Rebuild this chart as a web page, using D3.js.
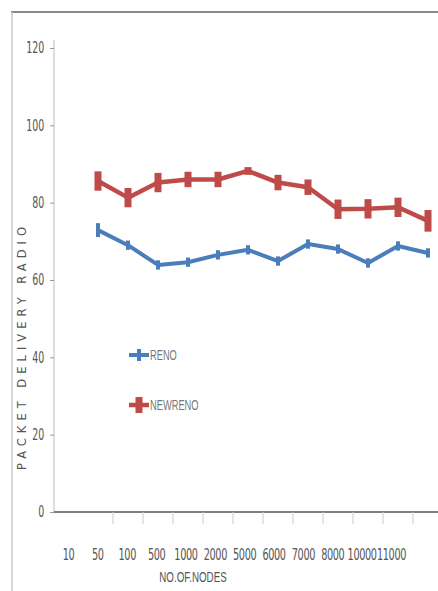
<!DOCTYPE html>
<html>
<head>
<meta charset="utf-8">
<script src="https://cdn.jsdelivr.net/npm/d3@7"></script>
<style>
  body { margin: 0; background: #fff; }
  .tick text { font-family: "Liberation Sans Narrow", "DejaVu Sans Condensed", sans-serif; fill: #555; }
</style>
</head>
<body>
<div id="chart"></div>
<script>
// Data
const nodeLabels = ["10", "50", "100", "500", "1000", "2000", "5000", "6000", "7000", "8000", "10000", "11000"];
const yTicks = [0, 20, 40, 60, 80, 100, 120];
const renoValues = [72.9, 69.0, 63.9, 64.6, 66.5, 67.8, 64.9, 69.3, 68.0, 64.4, 68.8, 67.0];
const newrenoValues = [85.6, 81.3, 85.2, 86.0, 86.0, 88.2, 85.2, 84.0, 78.3, 78.4, 78.8, 75.3];
const renoErr = [1.8, 1.2, 1.2, 1.2, 1.2, 1.2, 1.2, 1.2, 1.2, 1.2, 1.2, 1.2];
const newrenoErr = [2.5, 2.5, 2.5, 2.0, 2.0, 1.0, 2.0, 2.0, 2.5, 2.5, 2.5, 2.8];

const W = 438, H = 591;
const blue = "#4a7ebb", red = "#be4b48";

const svg = d3.select("#chart")
    .append("svg")
    .attr("width", W)
    .attr("height", H);

// Outer frame
svg.append("line").attr("x1", 11).attr("x2", W).attr("y1", 12).attr("y2", 12)
    .attr("stroke", "#8a8a8a").attr("stroke-width", 2);
svg.append("line").attr("x1", 12).attr("x2", 12).attr("y1", 12).attr("y2", H)
    .attr("stroke", "#c8c8c8").attr("stroke-width", 1.5);

// Scales
const y = d3.scaleLinear().domain([0, 120]).range([512, 48]);
const idx = d3.range(renoValues.length);
const x = d3.scalePoint().domain(idx).range([98, 428]);
const xLab = d3.scalePoint().domain(nodeLabels).range([68, 391]);

// Y axis
const yAxis = svg.append("g")
    .attr("transform", "translate(54,0)")
    .call(d3.axisLeft(y).tickValues(yTicks).tickSize(4).tickPadding(10));
yAxis.select(".domain").attr("stroke", "#bbb").attr("d", "M0,40V512");
yAxis.selectAll(".tick line").attr("stroke", "#999");
yAxis.selectAll(".tick text").style("font-size", "15px").attr("transform", "scale(0.7,1)");

// X axis line and ticks between categories
svg.append("line").attr("x1", 54).attr("x2", W).attr("y1", y(0)).attr("y2", y(0))
    .attr("stroke", "#555").attr("stroke-width", 1.5);
const step = x.step();
svg.append("g").selectAll("line")
    .data(idx.slice(1))
    .join("line")
    .attr("x1", d => x(d) - step / 2)
    .attr("x2", d => x(d) - step / 2)
    .attr("y1", y(0))
    .attr("y2", y(0) + 12)
    .attr("stroke", "#ccc");

// X tick labels (offset from the points, as in the original)
const xAxis = svg.append("g")
    .attr("transform", `translate(0,${y(0) + 34})`)
    .call(d3.axisBottom(xLab).tickSize(0));
xAxis.select(".domain").remove();
xAxis.selectAll(".tick text")
    .style("font-size", "15px")
    .style("letter-spacing", "-0.5px")
    .attr("transform", "scale(0.72,1)");

// Axis titles
svg.append("text")
    .attr("x", 193).attr("y", 582)
    .attr("text-anchor", "middle")
    .attr("transform", "translate(193,0) scale(0.7,1) translate(-193,0)")
    .style("font-family", "'Liberation Sans Narrow', sans-serif")
    .style("font-size", "14px")
    .style("fill", "#555")
    .text("NO.OF.NODES");

svg.append("text")
    .attr("transform", "translate(26,346) rotate(-90)")
    .attr("text-anchor", "middle")
    .style("font-family", "'DejaVu Sans', sans-serif")
    .style("font-size", "11.5px")
    .style("letter-spacing", "5px")
    .style("fill", "#555")
    .text("PACKET DELIVERY RADIO");

// Series
const series = [
    { name: "RENO", values: renoValues, err: renoErr, color: blue, capW: 4, lw: 4 },
    { name: "NEWRENO", values: newrenoValues, err: newrenoErr, color: red, capW: 7, lw: 4.5 }
];

const line = d3.line()
    .x((d, i) => x(i))
    .y(d => y(d));

series.forEach(s => {
    const g = svg.append("g");
    g.append("path")
        .datum(s.values)
        .attr("fill", "none")
        .attr("stroke", s.color)
        .attr("stroke-width", s.lw)
        .attr("stroke-linejoin", "round")
        .attr("d", line);
    // error bars
    g.selectAll("rect")
        .data(s.values)
        .join("rect")
        .attr("x", (d, i) => x(i) - s.capW / 2)
        .attr("width", s.capW)
        .attr("y", (d, i) => y(d + s.err[i]))
        .attr("height", (d, i) => y(d - s.err[i]) - y(d + s.err[i]))
        .attr("fill", s.color);
});

// Legend
const legend = svg.append("g");
series.forEach((s, i) => {
    const ly = 355 + i * 50;
    legend.append("line")
        .attr("x1", 129).attr("x2", 149).attr("y1", ly).attr("y2", ly)
        .attr("stroke", s.color).attr("stroke-width", s.lw);
    legend.append("rect")
        .attr("x", 139 - s.capW / 2).attr("width", s.capW)
        .attr("y", ly - (i ? 8 : 6)).attr("height", i ? 16 : 12)
        .attr("fill", s.color);
    legend.append("text")
        .attr("x", 150).attr("y", ly + 5)
        .attr("transform", `translate(150,0) scale(0.62,1) translate(-150,0)`)
        .style("font-family", "'Liberation Sans Narrow', sans-serif")
        .style("font-size", "15px")
        .style("fill", "#777")
        .text(s.name);
});
</script>
</body>
</html>
